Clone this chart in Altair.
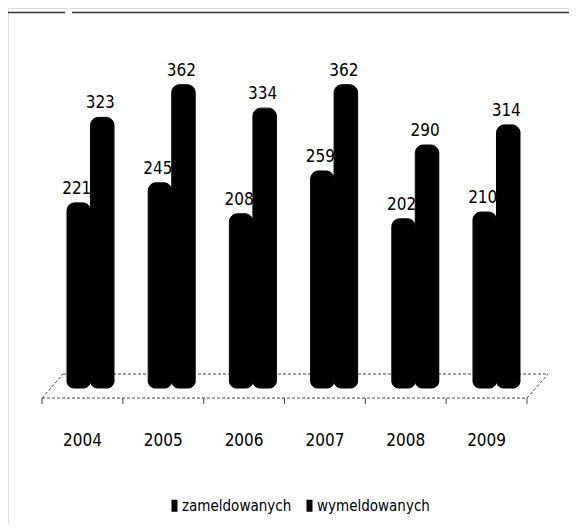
import altair as alt
import pandas as pd

# ---- data ----
years = ["2004", "2005", "2006", "2007", "2008", "2009"]
zameldowanych = [221, 245, 208, 259, 202, 210]
wymeldowanych = [323, 362, 334, 362, 290, 314]
series = ["zameldowanych", "wymeldowanych"]

FONT = "DejaVu Sans Condensed, sans-serif"

rows = []
for i, y in enumerate(years):
    rows.append({"year": y, "series": series[0], "value": zameldowanych[i]})
    rows.append({"year": y, "series": series[1], "value": wymeldowanych[i]})
df = pd.DataFrame(rows)

# floor of the pseudo-3D category axis (category-index units / value units)
FRONT = -12.0
BACK = 16.7
DEPTH = 0.26
n = len(years)
floor = pd.DataFrame({
    "x": [0, n, 0, DEPTH],
    "y": [FRONT, FRONT, FRONT, BACK],
    "x2": [n, n + DEPTH, DEPTH, n + DEPTH],
    "y2": [FRONT, BACK, BACK, BACK],
})
ticks = pd.DataFrame({"x": list(range(n + 1)), "y": FRONT, "y2": FRONT - 7})
labels = pd.DataFrame({"x": [i + 0.5 for i in range(n)], "y": FRONT, "year": years})

yscale = alt.Scale(domain=[0, 453.5], range=[380, 0], nice=False, zero=False)
xq = alt.Scale(domain=[0, n], range=[34, 519], nice=False, zero=False)

floor_lines = alt.Chart(floor).mark_rule(color="#444", strokeDash=[3, 2], strokeWidth=1).encode(
    x=alt.X("x:Q", scale=xq, axis=None),
    x2="x2:Q",
    y=alt.Y("y:Q", scale=yscale, axis=None),
    y2="y2:Q",
)
tick_marks = alt.Chart(ticks).mark_rule(color="#444", strokeWidth=1).encode(
    x=alt.X("x:Q", scale=xq, axis=None),
    y=alt.Y("y:Q", scale=yscale, axis=None),
    y2="y2:Q",
)
year_text = alt.Chart(labels).mark_text(
    font=FONT, fontSize=17, color="#000", baseline="middle", dy=43
).encode(
    x=alt.X("x:Q", scale=xq, axis=None),
    y=alt.Y("y:Q", scale=yscale, axis=None),
    text="year:N",
)
overlay = alt.layer(floor_lines, tick_marks, year_text)

xband = alt.Scale(domain=years, range=[59, 512], paddingInner=0.421, paddingOuter=0)
legend_symbol = "M-0.5,-1L0.5,-1L0.5,1L-0.5,1Z"

base = alt.Chart(df).encode(
    x=alt.X("year:N", scale=xband, axis=None, sort=years),
    xOffset=alt.XOffset("series:N", scale=alt.Scale(domain=series, paddingInner=0, paddingOuter=0), sort=series),
    y=alt.Y("value:Q", scale=yscale, axis=None),
)
bars = base.mark_bar(
    cornerRadiusTopLeft=8, cornerRadiusTopRight=8,
    cornerRadiusBottomLeft=7, cornerRadiusBottomRight=7,
    stroke="#000", strokeWidth=1,
).encode(
    color=alt.Color(
        "series:N",
        scale=alt.Scale(domain=series, range=["#000000", "#000000"]),
        legend=alt.Legend(
            orient="none", legendX=159, legendY=490, direction="horizontal",
            title=None, symbolType=legend_symbol, symbolSize=144,
            symbolStrokeWidth=0, labelFont=FONT, labelFontSize=15,
            labelColor="#000", labelOffset=0, columnPadding=10, padding=0,
        ),
    )
)
values = base.mark_text(
    font=FONT, fontSize=17, color="#000", baseline="alphabetic", dy=-9, dx=-2
).encode(text="value:Q")

main = alt.layer(bars, values)

frame_df = pd.DataFrame({"a": [0]})
top_line1 = alt.Chart(frame_df).mark_rule(color="#333", strokeWidth=1.5).encode(
    x=alt.value(-1), x2=alt.value(57), y=alt.value(4.5)
)
top_line2 = alt.Chart(frame_df).mark_rule(color="#333", strokeWidth=1.5).encode(
    x=alt.value(64), x2=alt.value(569), y=alt.value(4.5)
)
left_line = alt.Chart(frame_df).mark_rule(color="#888", strokeDash=[2, 3], strokeWidth=1).encode(
    x=alt.value(-1), y=alt.value(12), y2=alt.value(523)
)

chart = alt.layer(
    alt.layer(top_line1, top_line2, left_line),
    overlay,
    main,
).resolve_scale(x="independent", y="independent").properties(
    width=561, height=515, autosize=alt.AutoSizeParams(type="none"), padding=0,
).configure_view(stroke=None).configure(background="white")

chart.save("out.html", embed_options={"renderer": "svg", "actions": False})
